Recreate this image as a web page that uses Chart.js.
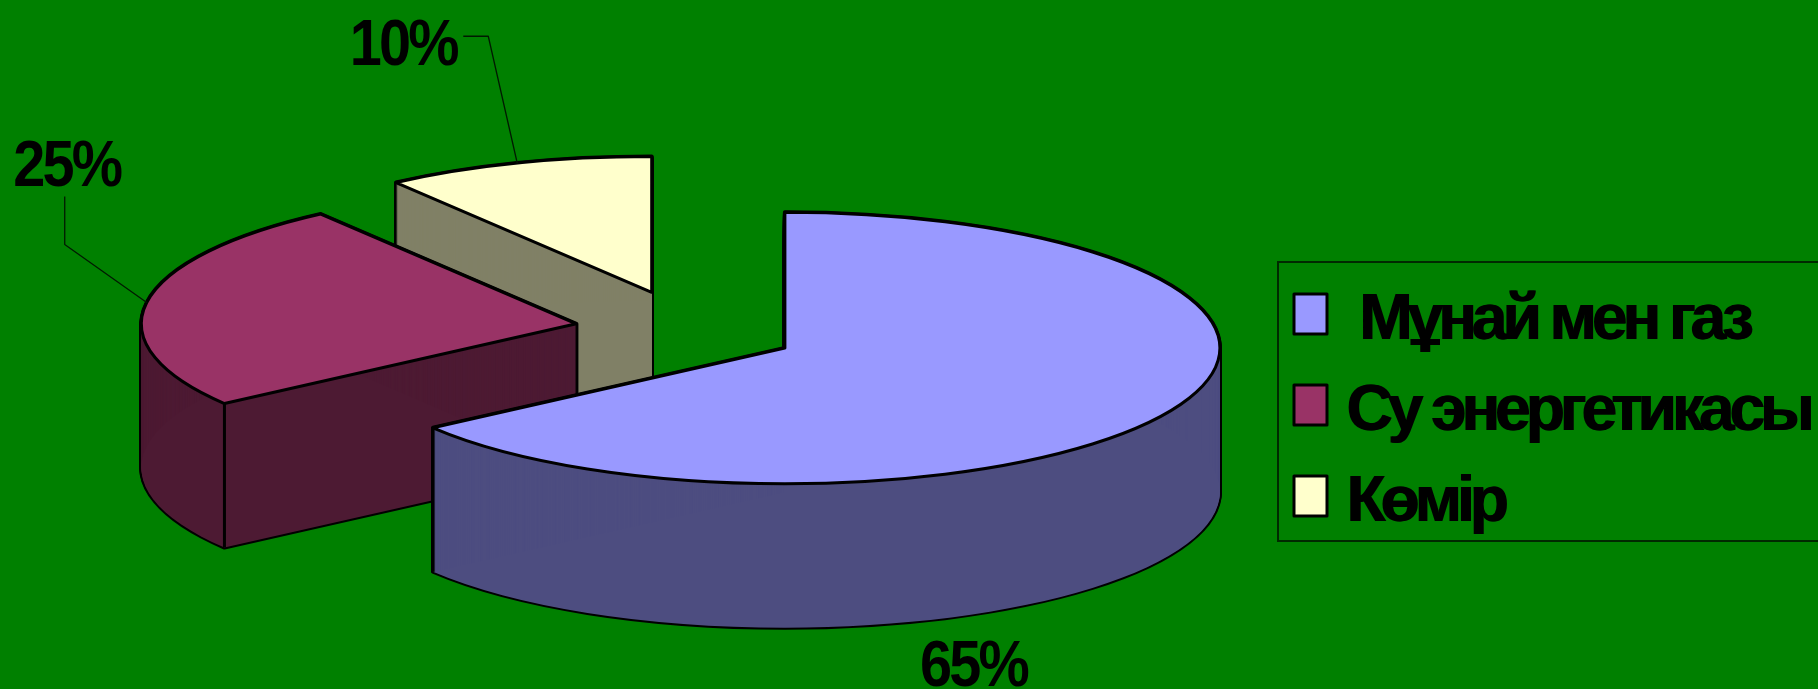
<!DOCTYPE html>
<html>
<head>
<meta charset="utf-8">
<style>
html,body{margin:0;padding:0;background:#008000;overflow:hidden}
canvas{display:block;filter:blur(0.6px)}
</style>
<script src="https://cdn.jsdelivr.net/npm/chart.js@4"></script>
</head>
<body>
<canvas id="c" width="1818" height="689"></canvas>
<script>
// --- data ---
const categories = [" Мұнай мен газ", "Су энергетикасы", "Көмір"];
const shares = [65, 25, 10];
const pctLabels = ["65%", "25%", "10%"];
// --- style ---
const topColors = ["#9999ff", "#993366", "#ffffcc"];
const sideColors = ["#4d4d80", "#4d1a33", "#808066"];
const FONT = '"Liberation Sans",sans-serif';
const squash = 0.312, explodeSquash = 0.357, depth = 144, explode = 111, pieRadius = 435;
const pieCentre = { x: 686, y: 330 };
const labelFontSize = 64, labelStretch = 0.9;
// label centre offset from the slice's mid-angle rim point [dx, dy]; leader polyline offsets from same
const labelOffsets = [[-199, 115], [-80, -134], [-114, -116]];
const leaderOffsets = [null, [[-82, -58], [-82, -106]], [[-29, -127], [-54, -127]]];
const legendLeft = 1267, legendMid = 412, frameLeft = 1278, frameUp = 150, frameDown = 129;
const swatchRise = 7, swatchW = 33, swatchH = 40;

const pie3d = {
  id: 'pie3d',
  afterLayout(chart) {
    const l = chart.legend, h = l.bottom - l.top;
    l.right += legendLeft - l.left; l.left = legendLeft;
    l.top = legendMid - h / 2; l.bottom = legendMid + h / 2;
  },
  beforeDraw(chart) {
    const ctx = chart.ctx;
    ctx.save();
    ctx.strokeStyle = '#002a00'; ctx.lineWidth = 2;
    ctx.strokeRect(frameLeft, legendMid - frameUp, chart.width - frameLeft + 5, frameUp + frameDown);
    ctx.restore();
    ctx.letterSpacing = '-5px';
    ctx.shadowColor = '#000'; ctx.shadowOffsetX = 1.2; ctx.shadowBlur = 0;
  },
  beforeDatasetsDraw(chart) {
    const ctx = chart.ctx, arcs = chart.getDatasetMeta(0).data;
    ctx.shadowColor = 'transparent'; ctx.shadowOffsetX = 0;
    const geom = arcs.map(a => {
      const mid = (a.startAngle + a.endAngle) / 2;
      const x = pieCentre.x + explode * Math.cos(mid);
      const y = pieCentre.y + explode * explodeSquash * Math.sin(mid);
      return { x, y, mid, s: a.startAngle, e: a.endAngle, r: a.outerRadius };
    });
    const path = (g, dy) => {
      ctx.beginPath();
      ctx.moveTo(g.x, g.y + dy);
      ctx.ellipse(g.x, g.y + dy, g.r, g.r * squash, 0, g.s, g.e);
      ctx.closePath();
    };
    ctx.save();
    ctx.letterSpacing = '0px';
    ctx.lineJoin = 'round';
    [2, 1, 0].forEach(i => {
      const g = geom[i];
      ctx.strokeStyle = '#000'; ctx.lineWidth = 4;
      for (let d = 0; d <= depth; d++) { path(g, d); ctx.stroke(); }
      ctx.fillStyle = sideColors[i];
      for (let d = 0; d <= depth; d++) { path(g, d); ctx.fill(); }
      [g.s, g.e].forEach(t => {
        if (Math.sin(t) > 0) {
          const px = g.x + g.r * Math.cos(t), py = g.y + g.r * squash * Math.sin(t);
          ctx.beginPath(); ctx.moveTo(px, py); ctx.lineTo(px, py + depth);
          ctx.lineWidth = 3; ctx.stroke();
        }
      });
      path(g, 0);
      ctx.fillStyle = topColors[i]; ctx.fill();
      ctx.lineWidth = 3; ctx.stroke();
    });
    // percentage labels and leader lines
    ctx.font = 'bold ' + labelFontSize + 'px ' + FONT;
    ctx.textAlign = 'center'; ctx.textBaseline = 'middle';
    geom.forEach((g, i) => {
      const rx = g.x + g.r * Math.cos(g.mid);
      let ry = g.y + g.r * squash * Math.sin(g.mid);
      if (Math.sin(g.mid) > 0) ry += depth;
      ctx.save();
      ctx.letterSpacing = '-3px';
      ctx.fillStyle = '#000';
      ctx.translate(rx + labelOffsets[i][0], ry + labelOffsets[i][1]);
      ctx.scale(labelStretch, 1);
      ctx.fillText(pctLabels[i], 0, 0);
      ctx.restore();
      const lo = leaderOffsets[i];
      if (lo) {
        ctx.beginPath(); ctx.moveTo(rx, ry);
        lo.forEach(o => ctx.lineTo(rx + o[0], ry + o[1]));
        ctx.strokeStyle = '#001a00'; ctx.lineWidth = 1.3; ctx.stroke();
      }
    });
    ctx.restore();
    return false;
  },
  afterDraw(chart) {
    // legend swatches sit closer to the text than the built-in gap allows
    const ctx = chart.ctx, l = chart.legend;
    ctx.save();
    ctx.shadowColor = 'transparent';
    ctx.lineJoin = 'round';
    l.legendHitBoxes.forEach((h, i) => {
      const y = h.top + labelFontSize / 2 - swatchH / 2 - swatchRise;
      ctx.fillStyle = topColors[i];
      ctx.strokeStyle = '#000'; ctx.lineWidth = 3;
      ctx.fillRect(h.left, y, swatchW, swatchH);
      ctx.strokeRect(h.left, y, swatchW, swatchH);
    });
    ctx.restore();
  }
};

new Chart(document.getElementById('c'), {
  type: 'pie',
  plugins: [pie3d],
  data: {
    labels: categories,
    datasets: [{
      data: shares,
      backgroundColor: topColors,
      borderColor: '#000',
      borderWidth: 2
    }]
  },
  options: {
    responsive: false,
    devicePixelRatio: 1,
    animation: false,
    radius: pieRadius,
    plugins: {
      tooltip: { enabled: false },
      title: { display: false },
      legend: {
        position: 'right',
        align: 'center',
        labels: {
          color: '#000',
          boxWidth: 20,
          boxHeight: 18,
          padding: 27,
          font: { family: FONT, size: labelFontSize, weight: 'bold' }
        }
      }
    }
  }
});
</script>
</body>
</html>
